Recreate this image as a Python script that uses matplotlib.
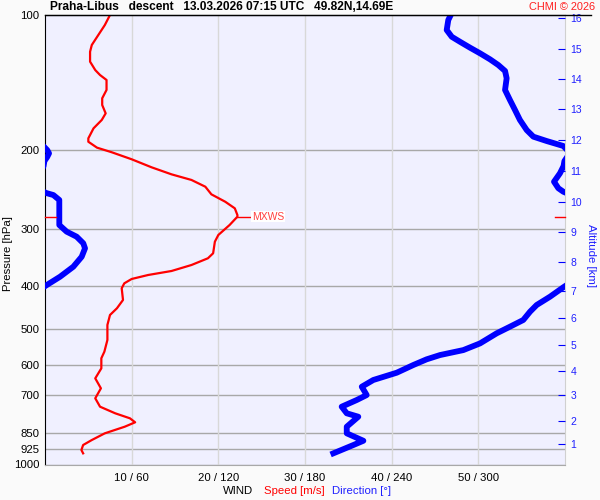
import numpy as np
import matplotlib
matplotlib.use('Agg')
from matplotlib import pyplot as plt
from matplotlib.lines import Line2D

plt.rcParams['font.family'] = ['Liberation Sans', 'DejaVu Sans']

# wind speed profile (hPa, m/s)
speed_p = [100, 105.3, 110.8, 116.6, 120.7, 127.0, 132.6, 136.0, 139.5, 146.8, 153.2, 158.6,
           165.5, 171.2, 178.7, 188.1, 191.4, 197.3, 202.0, 209.4, 218.2, 226.2, 232.8, 241.0,
           250.6, 260.3, 269.2, 278.6, 281.0, 293.2, 308.6, 319.4, 338.9, 347.7, 359.9, 371.1,
           378.8, 386.6, 395.3, 405.5, 430.5, 449.2, 464.9, 489.3, 528.4, 561.1, 580.3, 611.0,
           643.2, 676.9, 712.4, 743.7, 769.3, 789.3, 805.6, 824.0, 852.4, 882.2, 905.0, 928.5, 944.5]
speed = [7.5, 6.9, 6.15, 5.4, 5.2, 5.2, 5.8, 6.35, 7.1, 7.1, 6.6, 6.6,
         7.0, 6.55, 5.6, 5.0, 5.0, 6.0, 7.7, 10.0, 12.3, 14.6, 16.9, 18.5,
         19.2, 20.8, 21.9, 22.2, 22.2, 21.3, 20.0, 19.6, 19.4, 18.8, 16.9, 14.6,
         11.9, 10.0, 9.15, 8.85, 9.0, 8.3, 7.5, 7.2, 7.2, 6.85, 6.5, 6.5,
         5.8, 6.45, 5.8, 6.35, 8.1, 9.8, 10.4, 9.2, 6.9, 5.4, 4.4, 4.2, 4.4]

# wind direction profile (hPa, deg)
dir_p = [100, 102.6, 108.0, 111.8, 114.7, 118.2, 121.7, 125.5, 129.2, 133.2, 138.3, 146.8,
         154.6, 162.7, 171.2, 180.3, 186.5, 190.7, 195.6, 199.7, 203.1, 207.0, 211.3, 216.8,
         225.0, 234.9, 242.9, 247.2, 249.1, 251.5, 257.9, 281.0, 293.2, 303.4, 311.3, 322.0,
         330.4, 345.0, 363.1, 382.2, 398.8, 403.5, 423.4, 441.7, 457.1, 477.0, 493.7, 510.7,
         537.7, 556.5, 570.8, 583.5, 600.7, 624.9, 648.6, 671.4, 700.6, 718.7, 743.7, 769.3,
         782.9, 824.0, 852.4, 885.5, 905.0, 944.5]
direction = [280.9, 279.2, 278.1, 281.6, 287.3, 294.2, 301.2, 308.1, 313.8, 318.5, 319.6, 318.5,
             321.9, 325.4, 328.8, 333.5, 338.1, 347.3, 358.8, 1.5, 2.8, 1.5, 359.6, 359.0,
             356.5, 352.4, 355.4, 358.8, 1.2, 5.8, 9.9, 9.9, 9.9, 15.0, 21.9, 26.5,
             27.7, 25.4, 19.6, 10.4, 1.2, 358.8, 349.6, 340.4, 335.8, 331.1, 321.9, 312.7,
             301.2, 289.6, 273.5, 264.2, 255.0, 243.5, 227.3, 219.3, 222.7, 215.8, 205.4, 208.9,
             216.9, 208.9, 208.9, 220.4, 213.5, 199.6]

p_ticks = [100, 200, 300, 400, 500, 600, 700, 850, 925, 1000]
x_ticks = [10, 20, 30, 40, 50]
x_labels = ['10 / 60', '20 / 120', '30 / 180', '40 / 240', '50 / 300']
km_labels = list(range(1, 17))
km_p = [901.8, 800.2, 701.5, 619.4, 542.2, 472.1, 411.1, 354.9,
        304.4, 260.3, 222.4, 189.7, 162.1, 138.8, 119.2, 101.7]
mxws_p = 281.0
mxws_speed = 22.2

fig = plt.figure(figsize=(6, 5), dpi=100, facecolor='#fafafa')
ax = fig.add_axes([45/600, 1-464.5/500, 520/600, 449.5/500])
ax.set_facecolor('#f0f0ff')
ax.set_yscale('log')
ax.set_ylim(1000, 100)
ax.set_xlim(0, 60)

# grid
for p in p_ticks[1:]:
    ax.axhline(p, color='#a8a8a8', lw=1, zorder=1)
for x in x_ticks:
    ax.axvline(x, color='#d8d8d8', lw=1, zorder=1)

ax.set_yticks(p_ticks)
ax.set_yticklabels([str(p) for p in p_ticks])
ax.yaxis.set_minor_locator(matplotlib.ticker.NullLocator())
ax.tick_params(axis='y', length=0, labelsize=8.2, pad=4)
ax.set_xticks(x_ticks)
ax.set_xticklabels(x_labels)
ax.tick_params(axis='x', length=0, labelsize=8.2, pad=6)

ax.spines['left'].set_color('black')
ax.spines['top'].set_color('black')
ax.spines['right'].set_color('#d0d0d0')
ax.spines['bottom'].set_color('#a8a8a8')

# direction (wrapped around 0/360)
d = np.rad2deg(np.unwrap(np.deg2rad(direction)))
for k in (-360, 0, 360):
    ax.plot((d + k) / 6.0, dir_p, color='#0000ff', lw=4.2, zorder=3)

# speed
ax.plot(speed, speed_p, color='#ff0000', lw=1.6, zorder=4)

# max wind marker
ax.plot([mxws_speed, mxws_speed + 1.5], [mxws_p, mxws_p], color='#ff0000', lw=1, zorder=4)
ax.text(mxws_speed + 1.7, mxws_p, 'MXWS', color='#ff4040', fontsize=7.5, va='center',
        bbox=dict(facecolor='white', edgecolor='none', pad=0.5), zorder=5)
ax.plot([0, 1.3], [mxws_p, mxws_p], color='#ff0000', lw=1, zorder=4, clip_on=False)
ax.plot([58.8, 60], [mxws_p, mxws_p], color='#ff0000', lw=1, zorder=4, clip_on=False)

# altitude axis
ax2 = ax.twinx()
ax2.set_yscale('log')
ax2.set_ylim(1000, 100)
ax2.set_yticks(km_p)
ax2.set_yticklabels([str(k) for k in km_labels])
ax2.yaxis.set_minor_locator(matplotlib.ticker.NullLocator())
ax2.tick_params(axis='y', direction='in', length=5, color='#0000ff', labelcolor='#2020ff',
                labelsize=7.5, pad=4)
for s in ax2.spines.values():
    s.set_visible(False)

fig.text(8/600, 1-254/500, 'Pressure [hPa]', fontsize=8.2, rotation=90, ha='center', va='center')
fig.text(591/600, 1-256/500, 'Altitude [km]', fontsize=8.2, rotation=270, color='#2020ff',
         ha='center', va='center')

fig.add_artist(Line2D([45/600, 591/600], [1-15/500, 1-15/500], color='black', lw=1))

fig.text(50/600, 1-7/500, 'Praha-Libus   descent   13.03.2026 07:15 UTC   49.82N,14.69E',
         fontsize=8.6, fontweight='bold', va='center', ha='left')
fig.text(595/600, 1-7/500, 'CHMI \u00a9 2026', color='#ff2020', fontsize=7.9, va='center', ha='right')

fig.text(253/600, 1-491/500, 'WIND', fontsize=8.2, ha='right', va='center')
fig.text(264/600, 1-491/500, 'Speed [m/s]', fontsize=8.2, color='#ff0000', ha='left', va='center')
fig.text(332/600, 1-491/500, 'Direction [\u00b0]', fontsize=8.2, color='#2020ff', ha='left', va='center')

fig.savefig('out.png', dpi=100, facecolor=fig.get_facecolor())
